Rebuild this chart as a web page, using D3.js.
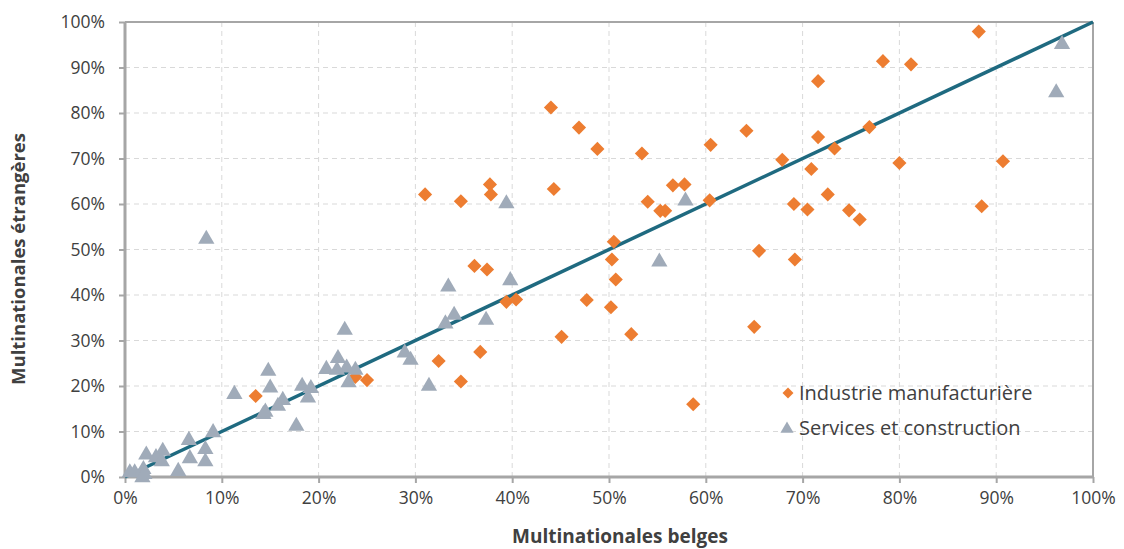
<!DOCTYPE html>
<html><head><meta charset="utf-8">
<script src="https://cdn.jsdelivr.net/npm/d3@7"></script>
<style>body{margin:0;background:#fff}svg{display:block}</style>
</head><body><svg id="c" width="1124" height="549"></svg>
<script>
const seriesNames = ["Industrie manufacturière", "Services et construction"];
const industrieX = [88.2,78.3,81.2,71.6,44.0,46.9,64.2,76.9,71.6,48.8,60.5,53.4,73.3,67.9,70.9,80.0,90.7,31.0,34.7,37.7,37.8,44.3,56.6,54.0,55.3,55.8,57.8,60.4,69.1,70.5,72.6,74.8,75.9,88.5,65.5,69.2,50.3,50.5,50.7,47.7,50.2,52.3,45.1,36.1,37.4,39.4,40.4,36.7,32.4,34.7,65.0,58.7,13.5,25.0,23.8];
const industrieY = [97.9,91.4,90.7,87.0,81.2,76.8,76.1,76.9,74.7,72.1,73.0,71.1,72.2,69.7,67.7,69.0,69.4,62.1,60.6,64.3,62.1,63.3,64.1,60.5,58.5,58.5,64.3,60.8,60.0,58.8,62.1,58.6,56.6,59.5,49.7,47.8,47.8,51.7,43.4,38.9,37.3,31.4,30.8,46.4,45.6,38.5,39.0,27.5,25.5,21.0,33.0,16.0,17.8,21.3,22.0];
const servicesX = [8.4,22.7,22.0,20.8,22.9,23.8,23.1,21.9,14.8,15.0,11.3,18.3,19.2,18.9,16.3,15.8,14.3,14.5,17.7,9.1,6.6,8.3,6.7,8.3,5.5,2.2,3.9,3.2,3.8,0.5,1.0,1.9,1.8,2.0,33.4,39.8,34.0,33.1,37.3,28.9,29.5,31.4,55.2,39.4,57.9,96.8,96.2];
const servicesY = [52.5,32.5,26.3,23.9,24.2,23.7,21.0,23.7,23.5,19.8,18.4,20.2,19.7,17.6,17.1,15.8,14.0,14.5,11.4,10.0,8.3,6.3,4.3,3.6,1.5,5.1,5.9,4.5,3.6,1.2,1.2,1.9,0.1,0.8,42.0,43.4,35.8,33.9,34.7,27.5,25.9,20.2,47.5,60.3,60.9,95.3,84.7];
const xTicks = [0,10,20,30,40,50,60,70,80,90,100];
const yTicks = [0,10,20,30,40,50,60,70,80,90,100];
const xTitle = "Multinationales belges";
const yTitle = "Multinationales étrangères";

const svg = d3.select("#c");
const L=125,R=1093,T=22,B=477;
const x = d3.scaleLinear().domain([0,100]).range([L,R]);
const y = d3.scaleLinear().domain([0,100]).range([B,T]);
const font = "'Open Sans', 'Noto Sans', sans-serif";
const txt = "#404040";
const axisCol = "#a6a6a6";

// grid
const g = svg.append("g");
g.selectAll(".gx").data(xTicks.slice(1,-1)).join("line")
  .attr("x1",d=>x(d)).attr("x2",d=>x(d)).attr("y1",T).attr("y2",B)
  .attr("stroke","#d9d9d9").attr("stroke-width",1).attr("stroke-dasharray","5,4");
g.selectAll(".gy").data(yTicks.slice(1,-1)).join("line")
  .attr("y1",d=>y(d)).attr("y2",d=>y(d)).attr("x1",L).attr("x2",R)
  .attr("stroke","#d9d9d9").attr("stroke-width",1).attr("stroke-dasharray","5,4");

// border top/right
svg.append("line").attr("x1",L).attr("x2",R).attr("y1",T).attr("y2",T).attr("stroke",axisCol).attr("stroke-width",2);
svg.append("line").attr("x1",R).attr("x2",R).attr("y1",T).attr("y2",B).attr("stroke",axisCol).attr("stroke-width",2);

// axes
const fmt = d=>d+"%";
const xa = svg.append("g").attr("transform",`translate(0,${B})`)
  .call(d3.axisBottom(x).tickValues(xTicks).tickFormat(fmt).tickSize(6).tickPadding(9));
const ya = svg.append("g").attr("transform",`translate(${L},0)`)
  .call(d3.axisLeft(y).tickValues(yTicks).tickFormat(fmt).tickSize(6).tickPadding(14));
[xa,ya].forEach(a=>{
  a.select(".domain").attr("stroke",axisCol).attr("stroke-width",3);
  a.selectAll(".tick line").attr("stroke",axisCol).attr("stroke-width",2);
  a.selectAll(".tick text").attr("fill",txt).attr("font-family",font).attr("font-size",17.5);
});
xa.selectAll(".domain").attr("d",`M${L},0H${R}`);
ya.selectAll(".domain").attr("d",`M0,${T}V${B}`);

// diagonal line
svg.append("line").attr("x1",x(0)).attr("y1",y(0)).attr("x2",x(100)).attr("y2",y(100))
  .attr("stroke","#1f6a80").attr("stroke-width",3.5);

// markers
const diamond = d3.symbol().type(d3.symbolSquare).size(100)();
const tri = d3.symbol().type(d3.symbolTriangle).size(115)();
svg.append("g").selectAll("path").data(industrieX.map((v,i)=>[v,industrieY[i]])).join("path")
  .attr("d",diamond).attr("transform",d=>`translate(${x(d[0])},${y(d[1])}) rotate(45)`)
  .attr("fill","#ed7d31");
svg.append("g").selectAll("path").data(servicesX.map((v,i)=>[v,servicesY[i]])).join("path")
  .attr("d",tri).attr("transform",d=>`translate(${x(d[0])},${y(d[1])+1})`)
  .attr("fill","#a0abb9");

// legend
const lg = svg.append("g");
lg.append("path").attr("d",d3.symbol().type(d3.symbolSquare).size(60)()).attr("transform","translate(788,393) rotate(45)").attr("fill","#ed7d31");
lg.append("path").attr("d",d3.symbol().type(d3.symbolTriangle).size(75)()).attr("transform","translate(787,429)").attr("fill","#a0abb9");
lg.append("text").attr("x",799).attr("y",393).attr("dy","0.35em").text(seriesNames[0])
  .attr("font-family",font).attr("font-size",20).attr("fill",txt);
lg.append("text").attr("x",799).attr("y",428).attr("dy","0.35em").text(seriesNames[1])
  .attr("font-family",font).attr("font-size",20).attr("fill",txt);

// titles
svg.append("text").attr("x",620).attr("y",543).attr("text-anchor","middle").text(xTitle)
  .attr("font-family",font).attr("font-size",19).attr("font-weight","bold").attr("fill",txt);
svg.append("text").attr("transform",`translate(25,259) rotate(-90)`).attr("text-anchor","middle").text(yTitle)
  .attr("font-family",font).attr("font-size",18.5).attr("font-weight","bold").attr("fill",txt);
</script></body></html>
